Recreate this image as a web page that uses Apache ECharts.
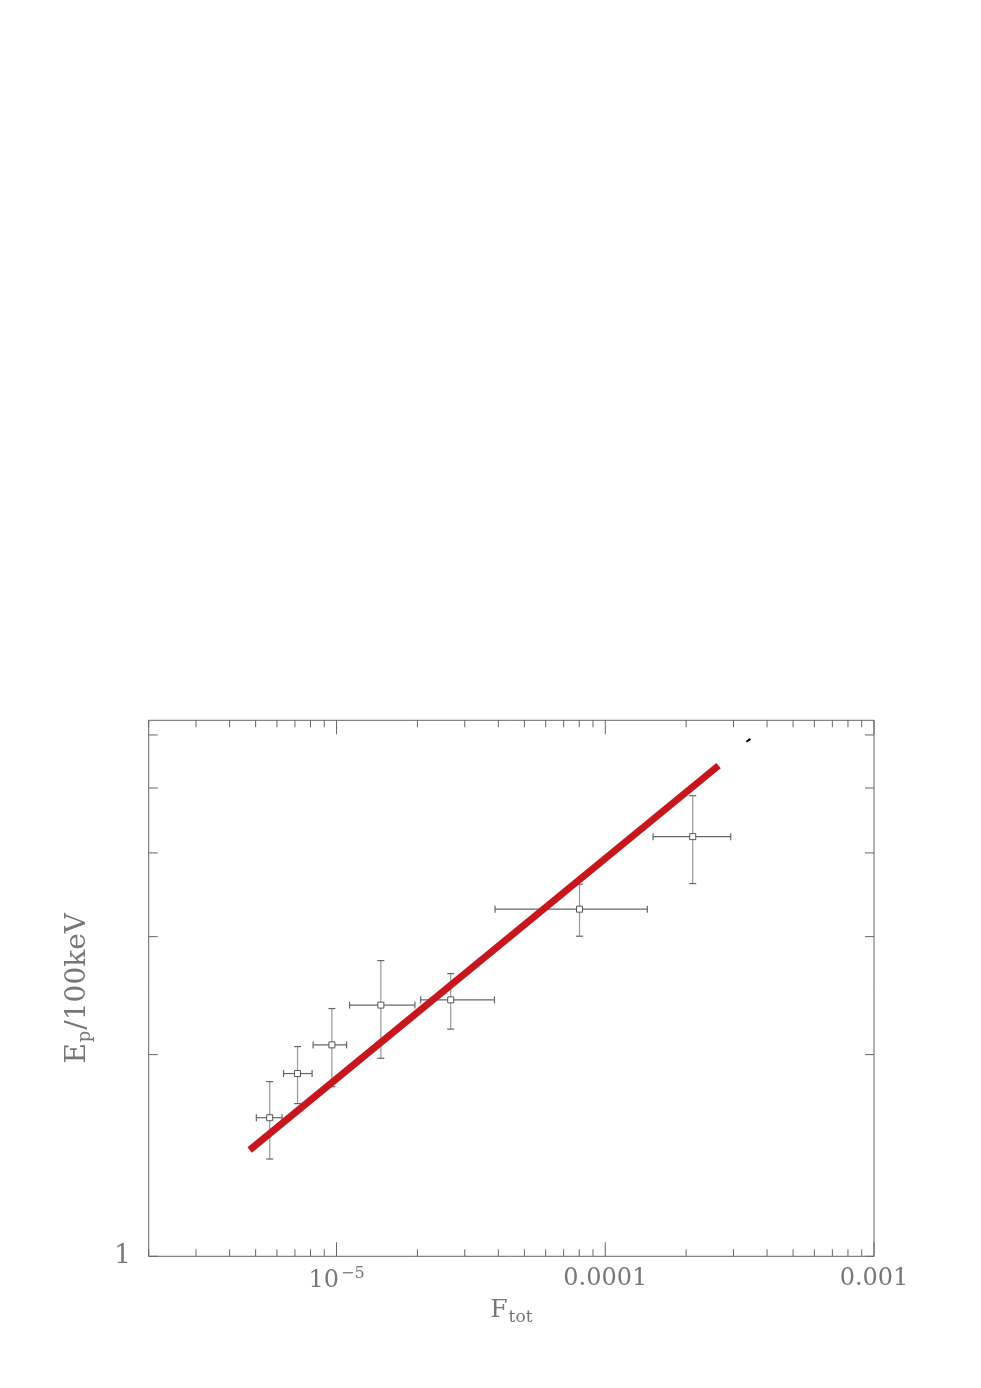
<!DOCTYPE html>
<html>
<head>
<meta charset="utf-8">
<script src="https://cdn.jsdelivr.net/npm/echarts@6/dist/echarts.min.js"></script>
<style>
  html, body { margin: 0; padding: 0; background: #fff; }
  #chart { width: 981px; height: 1388px; }
</style>
</head>
<body>
<div id="chart"></div>
<script>
// axis ranges
var xMin = 2e-6, xMax = 1e-3
var yMin = 1, yMax = Math.pow(10, 0.8)

// measured points: F_tot, Ep/100keV and their error limits
var fTot   = [5.64e-6, 7.16e-6, 9.61e-6, 1.462e-5, 2.66e-5, 8.02e-5, 2.116e-4]
var fLow   = [5.03e-6, 6.35e-6, 8.18e-6, 1.118e-5, 2.056e-5, 3.89e-5, 1.506e-4]
var fHigh  = [6.27e-6, 8.11e-6, 1.090e-5, 1.957e-5, 3.87e-5, 1.434e-4, 2.93e-4]
var ep     = [1.61, 1.874, 2.068, 2.371, 2.414, 3.297, 4.23]
var epLow  = [1.397, 1.690, 1.791, 1.975, 2.183, 3.004, 3.60]
var epHigh = [1.823, 2.056, 2.343, 2.763, 2.642, 3.593, 4.87]

// fitted relation (red) and the small black dash near the top
var fitX = [4.75e-6, 2.64e-4]
var fitY = [1.441, 5.40]
var dashX = [3.35e-4, 3.47e-4]
var dashY = [5.86, 5.92]

// tick values and labels
var xMajorTicks = [1e-5, 1e-4, 1e-3]
var xMinorTicks = [2e-6, 3e-6, 4e-6, 5e-6, 6e-6, 7e-6, 8e-6, 9e-6,
                   2e-5, 3e-5, 4e-5, 5e-5, 6e-5, 7e-5, 8e-5, 9e-5,
                   2e-4, 3e-4, 4e-4, 5e-4, 6e-4, 7e-4, 8e-4, 9e-4]
var yTicks = [1, 2, 3, 4, 5, 6]
var xLabelExp = [-5, -4, -3]
var xLabelText = ['10{sup|\u22125}', '0.0001', '0.001']
var yLabelValues = [1]
var yLabelText = ['1']

var axisColor = '#666'
var textColor = '#777'
var fontFam = 'DejaVu Serif'

var errData = fTot.map(function (v, i) {
    return [v, ep[i], fLow[i], fHigh[i], epLow[i], epHigh[i]]
})

var xTickData = xMajorTicks.map(function (v) { return [v, yMin, 14] })
    .concat(xMinorTicks.map(function (v) { return [v, yMin, 7] }))
var yTickData = yTicks.map(function (v) { return [xMin, v, 9] })

function renderXTick(params, api) {
    var v = api.value(0), len = api.value(2)
    var b = api.coord([v, yMin]), t = api.coord([v, yMax])
    var st = { stroke: axisColor, lineWidth: 1 }
    return {
        type: 'group',
        children: [
            { type: 'line', shape: { x1: b[0], y1: b[1], x2: b[0], y2: b[1] - len }, style: st },
            { type: 'line', shape: { x1: t[0], y1: t[1], x2: t[0], y2: t[1] + len }, style: st }
        ]
    }
}

function renderYTick(params, api) {
    var v = api.value(1), len = api.value(2)
    var l = api.coord([xMin, v]), r = api.coord([xMax, v])
    var st = { stroke: axisColor, lineWidth: 1 }
    return {
        type: 'group',
        children: [
            { type: 'line', shape: { x1: l[0], y1: l[1], x2: l[0] + len, y2: l[1] }, style: st },
            { type: 'line', shape: { x1: r[0], y1: r[1], x2: r[0] - len, y2: r[1] }, style: st }
        ]
    }
}

function renderErr(params, api) {
    var c = api.coord([api.value(0), api.value(1)])
    var xl = api.coord([api.value(2), api.value(1)])
    var xh = api.coord([api.value(3), api.value(1)])
    var yl = api.coord([api.value(0), api.value(4)])
    var yh = api.coord([api.value(0), api.value(5)])
    var vSt = { stroke: '#999', lineWidth: 1.2 }
    var hSt = { stroke: '#666', lineWidth: 1.2 }
    var cap = 3.5
    return {
        type: 'group',
        children: [
            { type: 'line', shape: { x1: c[0], y1: yl[1], x2: c[0], y2: yh[1] }, style: vSt },
            { type: 'line', shape: { x1: c[0] - cap, y1: yl[1], x2: c[0] + cap, y2: yl[1] }, style: hSt },
            { type: 'line', shape: { x1: c[0] - cap, y1: yh[1], x2: c[0] + cap, y2: yh[1] }, style: hSt },
            { type: 'line', shape: { x1: xl[0], y1: c[1], x2: xh[0], y2: c[1] }, style: hSt },
            { type: 'line', shape: { x1: xl[0], y1: c[1] - cap, x2: xl[0], y2: c[1] + cap }, style: hSt },
            { type: 'line', shape: { x1: xh[0], y1: c[1] - cap, x2: xh[0], y2: c[1] + cap }, style: hSt },
            { type: 'rect', shape: { x: c[0] - 3, y: c[1] - 3, width: 6, height: 6 },
              style: { fill: '#fff', stroke: '#555', lineWidth: 1 } }
        ]
    }
}

var myChart = echarts.init(document.getElementById('chart'))
myChart.setOption({
    backgroundColor: '#fff',
    animation: false,
    grid: {
        left: 148.7, right: 107, top: 720.3, bottom: 131.7,
        show: true, borderColor: axisColor, borderWidth: 1, backgroundColor: 'transparent'
    },
    xAxis: {
        type: 'log',
        min: xMin,
        max: xMax,
        logBase: 10,
        axisLine: { show: false },
        axisTick: { show: false },
        splitLine: { show: false },
        axisLabel: {
            margin: 10,
            color: textColor,
            fontFamily: fontFam,
            fontSize: 24,
            showMinLabel: true,
            showMaxLabel: true,
            formatter: function (value) {
                var lg = Math.log10(value)
                var e = Math.round(lg)
                if (Math.abs(lg - e) > 1e-6) return ''
                var k = xLabelExp.indexOf(e)
                return k < 0 ? '' : xLabelText[k]
            },
            rich: {
                sup: { fontSize: 16, fontFamily: fontFam, color: textColor, verticalAlign: 'bottom', padding: [0, 0, 12, 2] }
            }
        },
        name: 'F{sub|tot}',
        nameLocation: 'middle',
        nameGap: 39,
        nameTextStyle: {
            color: textColor, fontFamily: fontFam, fontSize: 25,
            rich: {
                sub: { fontSize: 17, fontFamily: fontFam, color: textColor, verticalAlign: 'top', padding: [14, 0, 0, 1] }
            }
        }
    },
    yAxis: {
        type: 'log',
        min: yMin,
        max: yMax,
        logBase: 10,
        axisLine: { show: false },
        axisTick: { show: false },
        splitLine: { show: false },
        axisLabel: {
            margin: 18,
            color: textColor,
            fontFamily: fontFam,
            fontSize: 26,
            showMinLabel: true,
            formatter: function (value) {
                for (var i = 0; i < yLabelValues.length; i++) {
                    if (Math.abs(value - yLabelValues[i]) < 1e-6) return yLabelText[i]
                }
                return ''
            }
        },
        name: 'E{sub|p}/100keV',
        nameLocation: 'middle',
        nameRotate: 90,
        nameGap: 54,
        nameTextStyle: {
            color: textColor, fontFamily: fontFam, fontSize: 28,
            rich: {
                sub: { fontSize: 18, fontFamily: fontFam, color: textColor, verticalAlign: 'top', padding: [16, 1, 0, 1] }
            }
        }
    },
    series: [
        {
            type: 'custom',
            renderItem: renderXTick,
            data: xTickData,
            silent: true,
            z: 1
        },
        {
            type: 'custom',
            renderItem: renderYTick,
            data: yTickData,
            silent: true,
            z: 1
        },
        {
            type: 'custom',
            renderItem: renderErr,
            data: errData,
            encode: { x: 0, y: 1 },
            z: 2
        },
        {
            type: 'line',
            data: fitX.map(function (v, i) { return [v, fitY[i]] }),
            symbol: 'none',
            lineStyle: { color: '#c8161f', width: 7, cap: 'butt' },
            z: 3
        },
        {
            type: 'line',
            data: dashX.map(function (v, i) { return [v, dashY[i]] }),
            symbol: 'none',
            lineStyle: { color: '#000', width: 2 },
            z: 3
        }
    ]
})
</script>
</body>
</html>
